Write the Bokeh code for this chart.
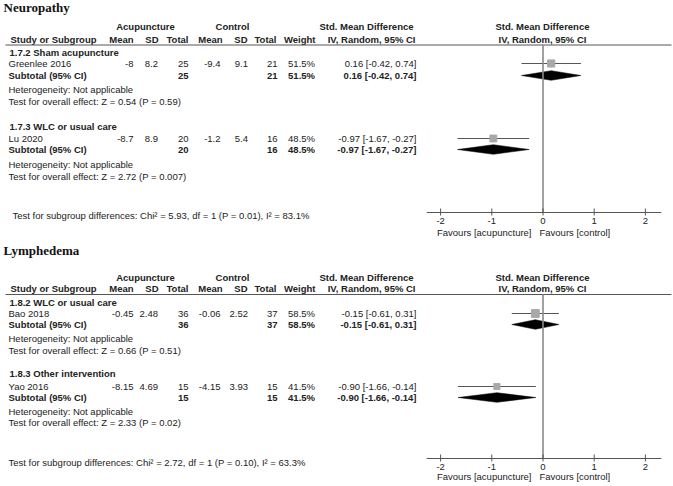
from bokeh.plotting import figure
from bokeh.models import Range1d
from bokeh.core.properties import value
from bokeh.embed import file_html
from bokeh.resources import INLINE

# ---------------- data ----------------
tick_values = [-2, -1, 0, 1, 2]
tick_labels = ["-2", "-1", "0", "1", "2"]

neuro_groups = ["1.7.2 Sham acupuncture", "1.7.3 WLC or usual care"]
neuro_studies = ["Greenlee 2016", "Lu 2020"]
neuro_acu_mean = ["-8", "-8.7"]
neuro_acu_sd = ["8.2", "8.9"]
neuro_acu_n = [25, 20]
neuro_ctl_mean = ["-9.4", "-1.2"]
neuro_ctl_sd = ["9.1", "5.4"]
neuro_ctl_n = [21, 16]
neuro_weight = [51.5, 48.5]
neuro_smd = [0.16, -0.97]
neuro_lo = [-0.42, -1.67]
neuro_hi = [0.74, -0.27]
neuro_z = ["0.54", "2.72"]
neuro_p = ["0.59", "0.007"]
neuro_subtest = "Chi\u00b2 = 5.93, df = 1 (P = 0.01), I\u00b2 = 83.1%"

lymph_groups = ["1.8.2 WLC or usual care", "1.8.3 Other intervention"]
lymph_studies = ["Bao 2018", "Yao 2016"]
lymph_acu_mean = ["-0.45", "-8.15"]
lymph_acu_sd = ["2.48", "4.69"]
lymph_acu_n = [36, 15]
lymph_ctl_mean = ["-0.06", "-4.15"]
lymph_ctl_sd = ["2.52", "3.93"]
lymph_ctl_n = [37, 15]
lymph_weight = [58.5, 41.5]
lymph_smd = [-0.15, -0.90]
lymph_lo = [-0.61, -1.66]
lymph_hi = [0.31, -0.14]
lymph_z = ["0.66", "2.33"]
lymph_p = ["0.51", "0.02"]
lymph_subtest = "Chi\u00b2 = 2.72, df = 1 (P = 0.10), I\u00b2 = 63.3%"

# ---------------- layout ----------------
W, H = 673, 486
X0, X1 = 0, 673
Y0, Y1 = 0, 486
ZERO_X = 542.5
UNIT = 51.2
AX_LO, AX_HI = -2.27, 2.31

FONT = "Liberation Sans"
TXT = "#222222"
FS = "9.5px"

p = figure(width=W, height=H, x_range=Range1d(X0, X1), y_range=Range1d(Y1, Y0),
           output_backend="svg", toolbar_location=None,
           x_axis_location=None, y_axis_location=None,
           min_border=0, min_border_left=0, min_border_right=0,
           min_border_top=0, min_border_bottom=0)
p.grid.visible = False
p.outline_line_color = None
p.background_fill_color = "white"
p.border_fill_color = "white"
p.extra_x_ranges = {"smd": Range1d((X0 - ZERO_X) / UNIT, (X1 - ZERO_X) / UNIT)}


def txt(x, y, s, align="left", bold=False, size=FS, font=FONT, color=TXT, rng="default"):
    p.text(x=[x], y=[y], text=[s], text_align=align, text_baseline="middle",
           text_font=value(font), text_font_size=size,
           text_font_style="bold" if bold else "normal", text_color=color,
           x_range_name=rng)


def draw_panel(name, groups, studies, am, asd, an, cm, csd, cn, w, smd, lo, hi, z, pv, subtest, L):
    txt(3, L["title"], name, bold=True, size="13px", font="Liberation Serif", color="#111111")
    # headers
    txt(145, L["h1"], "Acupuncture", "center", True)
    txt(232, L["h1"], "Control", "center", True)
    txt(413, L["h1"], "Std. Mean Difference", "right", True)
    txt(542, L["h1"], "Std. Mean Difference", "center", True)
    txt(10, L["h2"], "Study or Subgroup", "left", True)
    for xx, s in [(133, "Mean"), (158, "SD"), (188, "Total"), (222, "Mean"),
                  (247, "SD"), (276, "Total"), (315, "Weight")]:
        txt(xx, L["h2"], s, "right", True)
    txt(415, L["h2"], "IV, Random, 95% CI", "right", True)
    txt(542, L["h2"], "IV, Random, 95% CI", "center", True)
    p.segment(x0=[5], x1=[671], y0=[L["rule"]], y1=[L["rule"]], line_color="#555555", line_width=1)

    for i in range(len(groups)):
        gy, sy, ty, hy, ey = L["rows"][i]
        txt(9, gy, groups[i], bold=True)
        txt(8, sy, studies[i])
        txt(133, sy, am[i], "right")
        txt(157.5, sy, asd[i], "right")
        txt(188, sy, str(an[i]), "right")
        txt(220, sy, cm[i], "right")
        txt(247.5, sy, csd[i], "right")
        txt(277, sy, str(cn[i]), "right")
        txt(314.5, sy, f"{w[i]:.1f}%", "right")
        ci = f"{smd[i]:.2f} [{lo[i]:.2f}, {hi[i]:.2f}]"
        txt(416, sy, ci, "right")
        # subtotal
        txt(8, ty, "Subtotal (95% CI)", bold=True)
        txt(188, ty, str(an[i]), "right", True)
        txt(277, ty, str(cn[i]), "right", True)
        txt(314.5, ty, f"{w[i]:.1f}%", "right", True)
        txt(416, ty, ci, "right", True)
        txt(8, hy, "Heterogeneity: Not applicable")
        txt(8, ey, f"Test for overall effect: Z = {z[i]} (P = {pv[i]})")
        # forest marks
        p.segment(x0=[lo[i]], x1=[hi[i]], y0=[sy], y1=[sy], line_color="#555555",
                  line_width=1, x_range_name="smd")
        p.scatter(x=[smd[i]], y=[sy], marker="square", size=2 + w[i] / 10,
                  fill_color="#a8a8a8", line_color="#a8a8a8", x_range_name="smd")
        p.patch(x=[lo[i], smd[i], hi[i], smd[i]], y=[ty, ty - 4.8, ty, ty + 4.8],
                fill_color="black", line_color="black", line_width=0.5, x_range_name="smd")

    txt(L["subtest_x"], L["subtest"], "Test for subgroup differences: " + subtest)

    # zero line and axis
    p.segment(x0=[0], x1=[0], y0=[L["rule"]], y1=[L["axis"]], line_color="#8a8a8a",
              line_width=1.6, x_range_name="smd")
    p.segment(x0=[AX_LO], x1=[AX_HI], y0=[L["axis"]], y1=[L["axis"]], line_color="#555555",
              line_width=1, x_range_name="smd")
    p.segment(x0=tick_values, x1=tick_values, y0=[L["axis"] - 4] * len(tick_values),
              y1=[L["axis"] + 3] * len(tick_values), line_color="#555555", line_width=1,
              x_range_name="smd")
    p.text(x=tick_values, y=[L["axis"] + 8] * len(tick_values), text=tick_labels,
           text_align="center", text_baseline="middle", text_font=value(FONT),
           text_font_size=FS, text_color=TXT, x_range_name="smd")
    txt(531, L["axis"] + L["fav_dy"], "Favours [acupuncture]", "right")
    txt(539, L["axis"] + L["fav_dy"], "Favours [control]", "left")


NEURO_L = dict(title=7, h1=26, h2=39, rule=44.5,
               rows=[(52, 63, 75, 89, 101), (126, 138, 149, 164, 176)],
               subtest=215, subtest_x=12, axis=212, fav_dy=20)
LYMPH_L = dict(title=250, h1=277, h2=288, rule=294,
               rows=[(302, 313, 324, 338, 350), (373, 386, 397, 411, 422)],
               subtest=462, subtest_x=8, axis=458, fav_dy=18)

draw_panel("Neuropathy", neuro_groups, neuro_studies, neuro_acu_mean, neuro_acu_sd, neuro_acu_n,
           neuro_ctl_mean, neuro_ctl_sd, neuro_ctl_n, neuro_weight, neuro_smd, neuro_lo, neuro_hi,
           neuro_z, neuro_p, neuro_subtest, NEURO_L)
draw_panel("Lymphedema", lymph_groups, lymph_studies, lymph_acu_mean, lymph_acu_sd, lymph_acu_n,
           lymph_ctl_mean, lymph_ctl_sd, lymph_ctl_n, lymph_weight, lymph_smd, lymph_lo, lymph_hi,
           lymph_z, lymph_p, lymph_subtest, LYMPH_L)

open("out.html", "w").write(file_html(p, INLINE))
